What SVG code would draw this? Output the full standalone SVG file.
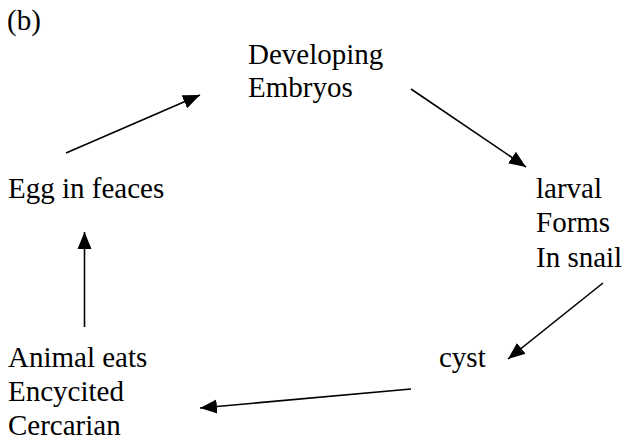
<svg xmlns="http://www.w3.org/2000/svg" width="624" height="441" viewBox="0 0 624 441">
<defs>
<marker id="ah" markerUnits="userSpaceOnUse" markerWidth="18" markerHeight="16" refX="17" refY="7" orient="auto" viewBox="0 0 18 14">
<path d="M0,0 L17,7 L0,14 z" fill="#000"/>
</marker>
</defs>
<rect width="624" height="441" fill="#fff"/>
<g id="label-b"><text x="7" y="30" font-size="29" font-family="Times New Roman">(b)</text></g>
<g id="n-developing"><text x="248" y="64" font-size="29" font-family="Times New Roman">Developing</text><text x="248" y="97" font-size="29" font-family="Times New Roman">Embryos</text></g>
<g id="n-egg"><text x="8" y="198" font-size="29" font-family="Times New Roman">Egg in feaces</text></g>
<g id="n-larval"><text x="536" y="198" font-size="29" font-family="Times New Roman">larval</text><text x="536" y="232" font-size="29" font-family="Times New Roman">Forms</text><text x="536" y="267" font-size="29" font-family="Times New Roman">In snail</text></g>
<g id="n-cyst"><text x="439" y="367" font-size="29" font-family="Times New Roman">cyst</text></g>
<g id="n-animal"><text x="8" y="367" font-size="29" font-family="Times New Roman">Animal eats</text><text x="8" y="401" font-size="29" font-family="Times New Roman">Encycited</text><text x="8" y="435" font-size="29" font-family="Times New Roman">Cercarian</text></g>
<g id="connectors" stroke="#000" stroke-width="1.6" marker-end="url(#ah)">
<line x1="66" y1="153" x2="200" y2="95"/>
<line x1="411" y1="89" x2="526" y2="167"/>
<line x1="603" y1="283" x2="508" y2="359"/>
<line x1="411" y1="389" x2="200" y2="408"/>
<line x1="84.5" y1="327" x2="84.5" y2="232"/>
</g>
</svg>
